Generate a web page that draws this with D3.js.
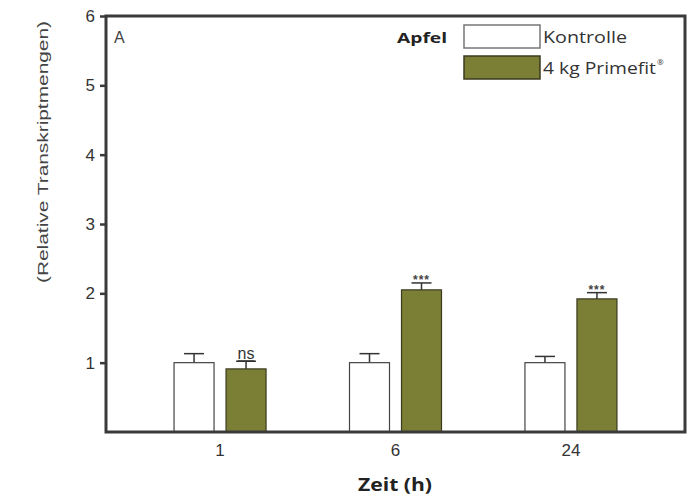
<!DOCTYPE html>
<html><head><meta charset="utf-8">
<script src="https://cdn.jsdelivr.net/npm/d3@7"></script>
<style>body{margin:0;background:#fff}svg{display:block}</style>
</head><body>
<script>
const categories = ["1", "6", "24"];
const seriesNames = ["Kontrolle", "4 kg Primefit"];
const kontrolle = [1.00, 1.00, 1.00];
const kontrolleErr = [0.13, 0.13, 0.09];
const primefit = [0.91, 2.05, 1.92];
const primefitErr = [0.11, 0.10, 0.09];
const signif = ["ns", "***", "***"];
const yTicks = [1, 2, 3, 4, 5, 6];

const W = 693, H = 497;
const m = {left: 106, right: 8, top: 16, bottom: 65};
const svg = d3.select("body").append("svg").attr("width", W).attr("height", H);

const x = d3.scaleBand().domain(categories).range([m.left, W - m.right]).paddingInner(0).paddingOuter(0.15);
const y = d3.scaleLinear().domain([0, 6]).range([H - m.bottom, m.top]);

const green = "#7b7f35";
const barW = 40, gap = 6;

const data = categories.map((c, i) => ({c, k: kontrolle[i], ke: kontrolleErr[i], p: primefit[i], pe: primefitErr[i], s: signif[i]}));

const g = svg.append("g");
data.forEach(d => {
  const cx = x(d.c) + x.bandwidth() / 2;
  const bars = [
    {x0: cx - gap - barW, v: d.k, e: d.ke, fill: "#fff", stroke: "#444"},
    {x0: cx + gap, v: d.p, e: d.pe, fill: green, stroke: "#3a3a20"}
  ];
  bars.forEach((b, j) => {
    const bc = b.x0 + barW / 2;
    g.append("line").attr("x1", bc).attr("x2", bc).attr("y1", y(b.v)).attr("y2", y(b.v + b.e))
      .attr("stroke", "#333").attr("stroke-width", 1.5);
    g.append("line").attr("x1", bc - 10).attr("x2", bc + 10).attr("y1", y(b.v + b.e)).attr("y2", y(b.v + b.e))
      .attr("stroke", "#333").attr("stroke-width", 1.5);
    g.append("rect").attr("x", b.x0).attr("y", y(b.v)).attr("width", barW).attr("height", y(0) - y(b.v))
      .attr("fill", b.fill).attr("stroke", b.stroke).attr("stroke-width", 1.2);
  });
  const pc = cx + gap + barW / 2;
  const top = y(d.p + d.pe);
  if (d.s === "ns") {
    g.append("text").attr("x", pc).attr("y", top - 2).attr("text-anchor", "middle")
      .attr("font-family", "Liberation Sans, Arial, sans-serif").attr("font-size", 16).attr("fill", "#333")
      .attr("text-decoration", "underline").text(d.s);
  } else {
    g.append("text").attr("x", pc).attr("y", top + 1).attr("text-anchor", "middle")
      .attr("font-family", "Liberation Sans, Arial, sans-serif").attr("font-size", 12).attr("font-weight", "bold").attr("fill", "#444")
      .attr("letter-spacing", "1px").text(d.s);
  }
});

// frame
const axCol = "#3a3a3a";
svg.append("rect").attr("x", m.left).attr("y", m.top).attr("width", W - m.right - m.left).attr("height", y(0) - m.top)
  .attr("fill", "none").attr("stroke", axCol).attr("stroke-width", 3);

// y axis
const yAxis = svg.append("g").attr("transform", `translate(${m.left},0)`)
  .call(d3.axisLeft(y).tickValues(yTicks).tickSize(6).tickFormat(d3.format("d")));
yAxis.select(".domain").remove();
yAxis.selectAll(".tick line").attr("stroke", axCol).attr("stroke-width", 2.5);
yAxis.selectAll(".tick text").attr("font-family", "Liberation Sans, Arial, sans-serif").attr("font-size", 17).attr("fill", "#333").attr("dx", "-2");

// x axis
const xAxis = svg.append("g").attr("transform", `translate(0,${y(0)})`)
  .call(d3.axisBottom(x).tickSize(0).tickPadding(12));
xAxis.select(".domain").remove();
xAxis.selectAll(".tick text").attr("font-family", "Liberation Sans, Arial, sans-serif").attr("font-size", 17).attr("fill", "#333");

// axis titles
svg.append("text").attr("transform", `translate(48,152) rotate(-90)`).attr("text-anchor", "middle")
  .attr("font-family", "Liberation Sans, Arial, sans-serif").attr("font-size", 15).attr("fill", "#444")
  .attr("textLength", 262).attr("lengthAdjust", "spacingAndGlyphs")
  .text("(Relative Transkriptmengen)");
svg.append("text").attr("x", 395).attr("y", 491).attr("text-anchor", "middle")
  .attr("font-family", "Open Sans, sans-serif").attr("font-weight", "bold").attr("font-size", 17).attr("fill", "#222")
  .attr("textLength", 74).attr("lengthAdjust", "spacingAndGlyphs")
  .text("Zeit (h)");

// panel label
svg.append("text").attr("x", 114).attr("y", 43).attr("font-family", "Liberation Sans, Arial, sans-serif")
  .attr("font-size", 16).attr("fill", "#444").text("A");

// legend
svg.append("text").attr("x", 397).attr("y", 43).attr("font-family", "Open Sans, sans-serif")
  .attr("font-weight", "bold").attr("font-size", 15).attr("fill", "#222")
  .attr("textLength", 50).attr("lengthAdjust", "spacingAndGlyphs").text("Apfel");
const leg = [{name: seriesNames[0], fill: "#fff", stroke: "#777", y: 25, len: 84}, {name: seriesNames[1], fill: green, stroke: "#3a3a20", y: 56, len: 113}];
leg.forEach((l, i) => {
  svg.append("rect").attr("x", 464).attr("y", l.y).attr("width", 76).attr("height", 23)
    .attr("fill", l.fill).attr("stroke", l.stroke).attr("stroke-width", 1.5);
  svg.append("text").attr("x", 543).attr("y", l.y + 18).attr("font-family", "Open Sans, sans-serif")
    .attr("font-size", 15.5).attr("fill", "#333")
    .attr("textLength", l.len).attr("lengthAdjust", "spacingAndGlyphs").text(l.name);
  if (i === 1) svg.append("text").attr("x", 543 + l.len + 1).attr("y", l.y + 9).attr("font-family", "Open Sans, sans-serif")
    .attr("font-size", 8).attr("fill", "#333").text("®");
});
</script>
</body></html>
